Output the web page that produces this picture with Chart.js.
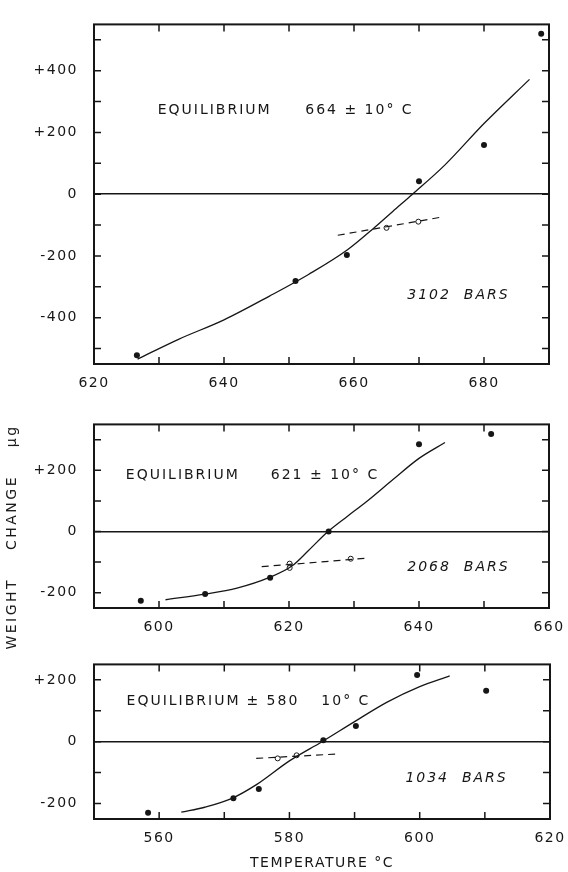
<!DOCTYPE html>
<html>
<head>
<meta charset="utf-8">
<script src="https://cdn.jsdelivr.net/npm/chart.js@4/dist/chart.umd.min.js"></script>
<style>
  body { margin: 0; background: #fff; }
  #page { position: relative; width: 568px; height: 872px; overflow: hidden; }
  canvas { position: absolute; left: 0; }
  #ytitle {
    position: absolute; left: -107px; top: 527px; width: 240px; height: 20px;
    line-height: 20px; text-align: center; white-space: pre;
    font: 14px "DejaVu Sans"; letter-spacing: 2.5px; color: #1a1a1a;
    transform: rotate(-90deg); transform-origin: 50% 50%;
  }
</style>
</head>
<body>
<div id="page">
  <canvas id="p3102" width="568" height="400" style="top:0px"></canvas>
  <canvas id="p2068" width="568" height="240" style="top:400px"></canvas>
  <canvas id="p1034" width="568" height="232" style="top:640px"></canvas>
  <div id="ytitle">WEIGHT    CHANGE    μg</div>
</div>
<script>
// ---- 3102 bars ----
var t3102Filled = [626.6, 651, 658.9, 670, 680, 688.8];
var w3102Filled = [-522, -281, -197, 42, 159, 520];
var t3102Open = [665, 669.9];
var w3102Open = [-109, -89];
var t3102Dash = [657.5, 673.8];
var w3102Dash = [-133, -73];
var t3102Curve = [626.7, 633, 640, 647, 653, 659, 663.2, 666, 669, 674, 680, 687];
var w3102Curve = [-534, -470, -407, -330, -260, -180, -107, -55, 0, 95, 229, 372];
var xLabels3102 = [620, 640, 660, 680];
var yLabels3102 = [-400, -200, 0, 200, 400];

// ---- 2068 bars ----
var t2068Filled = [597.2, 607.1, 617.1, 626.1, 640, 651.1];
var w2068Filled = [-226, -204, -151, 0, 285, 319];
var t2068Open = [620.1, 620.1, 629.5];
var w2068Open = [-105, -119, -89];
var t2068Dash = [615.8, 632.1];
var w2068Dash = [-115, -87];
var t2068Curve = [601, 607, 612, 617, 620.5, 623, 626, 629, 632, 636, 640, 644];
var w2068Curve = [-223, -205, -185, -150, -112, -62, 0, 50, 99, 170, 239, 291];
var xLabels2068 = [600, 620, 640, 660];
var yLabels2068 = [-200, 0, 200];

// ---- 1034 bars ----
var t1034Filled = [558.3, 571.4, 575.3, 585.2, 590.2, 599.6, 610.2];
var w1034Filled = [-230, -183, -153, 5, 51, 216, 165];
var t1034Open = [578.2, 581.1];
var w1034Open = [-54, -44];
var t1034Dash = [574.9, 587.1];
var w1034Dash = [-54, -40];
var t1034Curve = [563.4, 567, 571, 575, 580, 585, 590, 595, 600, 604.6];
var w1034Curve = [-228, -212, -185, -138, -62, 0, 65, 128, 178, 213];
var xLabels1034 = [560, 580, 600, 620];
var yLabels1034 = [-200, 0, 200];

var ink = '#161616';
var fam = '"DejaVu Sans", sans-serif';

function pts(xs, ys) {
  return xs.map(function(x, i) { return {x: x, y: ys[i]}; });
}

// tick values on round steps between the axis ends
function stepTicks(min, max, step) {
  var out = [];
  for (var v = Math.ceil(min / step) * step; v <= max; v += step) out.push(v);
  return out;
}

// box round the plot, inward tick marks on all sides, notes in the plot
function framePlugin(notes) {
  return {
    id: 'frame',
    beforeDraw: function(chart) {
      chart.ctx.letterSpacing = '1.5px';
    },
    afterDraw: function(chart) {
      var ctx = chart.ctx, a = chart.chartArea;
      var xs = chart.scales.x, ys = chart.scales.y;
      ctx.save();
      ctx.letterSpacing = '0px';
      ctx.setLineDash([]);
      ctx.strokeStyle = ink;
      ctx.lineWidth = 2;
      ctx.strokeRect(a.left, a.top, a.right - a.left, a.bottom - a.top);
      ctx.lineWidth = 1.5;
      ctx.beginPath();
      stepTicks(xs.min, xs.max, 10).forEach(function(v) {
        if (v <= xs.min || v >= xs.max) return;
        var px = xs.getPixelForValue(v);
        ctx.moveTo(px, a.bottom); ctx.lineTo(px, a.bottom - 7);
        ctx.moveTo(px, a.top); ctx.lineTo(px, a.top + 7);
      });
      stepTicks(ys.min, ys.max, 100).forEach(function(v) {
        if (v <= ys.min || v >= ys.max) return;
        var py = ys.getPixelForValue(v);
        ctx.moveTo(a.left, py); ctx.lineTo(a.left + 7, py);
        ctx.moveTo(a.right, py); ctx.lineTo(a.right - 7, py);
      });
      ctx.stroke();
      ctx.fillStyle = ink;
      ctx.textBaseline = 'middle';
      ctx.textAlign = 'left';
      notes.forEach(function(n) {
        ctx.font = (n.italic ? 'italic ' : '') + '14px ' + fam;
        ctx.letterSpacing = (n.spacing || 2) + 'px';
        ctx.fillText(n.text, xs.getPixelForValue(n.x), ys.getPixelForValue(n.y));
      });
      ctx.restore();
    }
  };
}

function makePanel(id, d) {
  var ctx = document.getElementById(id).getContext('2d');
  return new Chart(ctx, {
    type: 'scatter',
    data: {
      datasets: [
        { type: 'line', data: pts(d.curveT, d.curveW), borderColor: ink, borderWidth: 1.3,
          pointRadius: 0, cubicInterpolationMode: 'monotone', fill: false },
        { type: 'line', data: pts(d.dashT, d.dashW), borderColor: ink, borderWidth: 1.2,
          borderDash: [7, 5], pointRadius: 0, fill: false },
        { data: pts(d.openT, d.openW), pointRadius: 2.5, pointBackgroundColor: '#fff',
          pointBorderColor: ink, pointBorderWidth: 1 },
        { data: pts(d.filledT, d.filledW), pointRadius: 3, pointBackgroundColor: ink,
          pointBorderWidth: 0 }
      ]
    },
    options: {
      responsive: false,
      animation: false,
      layout: { padding: { top: d.top, right: d.right, left: 0, bottom: 0 } },
      plugins: { legend: { display: false }, tooltip: { enabled: false } },
      scales: {
        x: {
          type: 'linear', min: d.xMin, max: d.xMax,
          afterBuildTicks: function(s) {
            s.ticks = d.xLabels.map(function(v) { return { value: v }; });
          },
          ticks: {
            autoSkip: false, maxRotation: 0, padding: 3,
            color: ink, font: { family: fam, size: 14 },
            callback: function(v) { return String(v); }
          },
          grid: { display: false },
          border: { display: false },
          title: d.xTitle ? { display: true, text: d.xTitle, color: ink,
            font: { family: fam, size: 14 }, padding: { top: 0, bottom: 0 } } : { display: false },
          afterFit: function(s) { s.height = d.xHeight; }
        },
        y: {
          min: d.yMin, max: d.yMax,
          afterBuildTicks: function(s) {
            s.ticks = d.yLabels.map(function(v) { return { value: v }; });
          },
          ticks: {
            padding: 16, color: ink, font: { family: fam, size: 14 },
            callback: function(v) { return v > 0 ? '+' + v : String(v); }
          },
          grid: {
            drawTicks: false, lineWidth: 1.5,
            color: function(c) { return c.tick && c.tick.value === 0 ? ink : 'rgba(0,0,0,0)'; }
          },
          border: { display: false },
          afterFit: function(s) { s.width = 94; }
        }
      }
    },
    plugins: [framePlugin(d.notes)]
  });
}

makePanel('p3102', {
  filledT: t3102Filled, filledW: w3102Filled, openT: t3102Open, openW: w3102Open,
  dashT: t3102Dash, dashW: w3102Dash, curveT: t3102Curve, curveW: w3102Curve,
  xLabels: xLabels3102, yLabels: yLabels3102,
  xMin: 620, xMax: 690, yMin: -550, yMax: 550,
  top: 8, right: 19, xHeight: 36,
  notes: [
    { text: 'EQUILIBRIUM', x: 629.8, y: 272 },
    { text: '664 ± 10° C', x: 652.5, y: 272 },
    { text: '3102  BARS', x: 668.2, y: -328, italic: true }
  ]
});

makePanel('p2068', {
  filledT: t2068Filled, filledW: w2068Filled, openT: t2068Open, openW: w2068Open,
  dashT: t2068Dash, dashW: w2068Dash, curveT: t2068Curve, curveW: w2068Curve,
  xLabels: xLabels2068, yLabels: yLabels2068,
  xMin: 590, xMax: 660, yMin: -250, yMax: 350,
  top: 13, right: 19, xHeight: 32,
  notes: [
    { text: 'EQUILIBRIUM', x: 594.9, y: 183 },
    { text: '621 ± 10° C', x: 617.2, y: 183 },
    { text: '2068  BARS', x: 638.2, y: -118, italic: true }
  ]
});

makePanel('p1034', {
  filledT: t1034Filled, filledW: w1034Filled, openT: t1034Open, openW: w1034Open,
  dashT: t1034Dash, dashW: w1034Dash, curveT: t1034Curve, curveW: w1034Curve,
  xLabels: xLabels1034, yLabels: yLabels1034,
  xMin: 550, xMax: 620, yMin: -250, yMax: 250,
  top: 16, right: 18, xHeight: 53, xTitle: 'TEMPERATURE °C',
  notes: [
    { text: 'EQUILIBRIUM', x: 555.0, y: 130 },
    { text: '± 580', x: 573.4, y: 130 },
    { text: '10° C', x: 584.9, y: 130 },
    { text: '1034  BARS', x: 597.8, y: -120, italic: true }
  ]
});
</script>
</body>
</html>
